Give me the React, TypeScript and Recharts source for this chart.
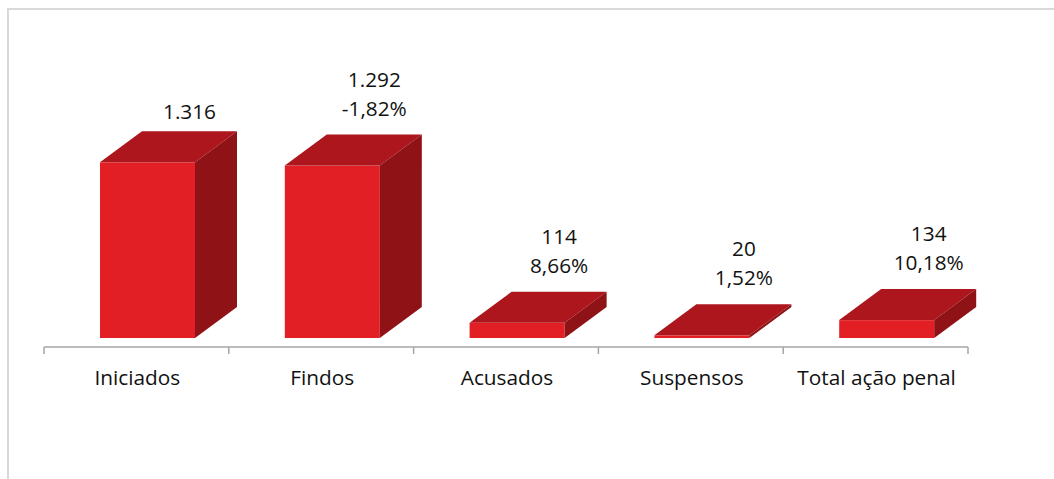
import { BarChart, Bar, XAxis, YAxis } from 'recharts'

const categories = ['Iniciados', 'Findos', 'Acusados', 'Suspensos', 'Total ação penal']
const values = [1316, 1292, 114, 20, 134]
const valueLabels = ['1.316', '1.292', '114', '20', '134']
const pctLabels = ['', '-1,82%', '8,66%', '1,52%', '10,18%']

const data = categories.map((name, i) => ({
  name,
  value: values[i],
  label: valueLabels[i],
  pct: pctLabels[i],
}))

const FRONT = '#e31f26'
const TOP = '#ac161c'
const SIDE = '#8f1217'
const FONT = '"Open Sans", "Noto Sans", sans-serif'
const FS = 20.8

const DX = 42
const DY = 31
const SHIFT = 11

function Bar3D(props: any) {
  const { x, y, width, height, payload } = props
  const x0 = x + SHIFT
  const x1 = x0 + width
  const yb = y + height
  const cx = x0 + width / 2 + DX
  return (
    <g>
      <rect x={x0} y={y} width={width} height={Math.max(height, 0.5)} fill={FRONT} />
      <polygon points={`${x0},${y} ${x0 + DX},${y - DY} ${x1 + DX},${y - DY} ${x1},${y}`} fill={TOP} />
      <polygon points={`${x1},${y} ${x1 + DX},${y - DY} ${x1 + DX},${yb - DY} ${x1},${yb}`} fill={SIDE} />
      {payload.pct ? (
        <>
          <text x={cx} y={y - DY - 48} textAnchor="middle" fontSize={FS} fontFamily={FONT} fill="#111">
            {payload.label}
          </text>
          <text x={cx} y={y - DY - 19} textAnchor="middle" fontSize={FS} fontFamily={FONT} fill="#111">
            {payload.pct}
          </text>
        </>
      ) : (
        <text x={cx} y={y - DY - 12} textAnchor="middle" fontSize={FS} fontFamily={FONT} fill="#111">
          {payload.label}
        </text>
      )}
    </g>
  )
}

function CatTick(props: any) {
  const { x, y, payload, index } = props
  const half = payload.offset ?? 92.4
  return (
    <g>
      <line x1={x - half} y1={y} x2={x - half} y2={y + 7} stroke="#a6a6a6" strokeWidth={1.5} />
      {index === categories.length - 1 && (
        <line x1={x + half} y1={y} x2={x + half} y2={y + 7} stroke="#a6a6a6" strokeWidth={1.5} />
      )}
      <text x={x + 1} y={y + 38} textAnchor="middle" fontSize={FS} fontFamily={FONT} fill="#111">
        {payload.value}
      </text>
    </g>
  )
}

export default function App() {
  return (
    <div style={{ position: 'absolute', left: 0, top: 0, width: 1054, height: 479, background: '#fff', overflow: 'hidden' }}>
      <div style={{ position: 'absolute', left: 7, top: 8, width: 1060, height: 500, borderTop: '2px solid #d9d9d9', borderLeft: '2px solid #d9d9d9' }} />
      <BarChart width={1054} height={479} data={data} margin={{ top: 71, right: 86, bottom: 102, left: 44 }}>
        <YAxis hide type="number" domain={[-67.3, 2000]} allowDataOverflow />
        <XAxis
          dataKey="name"
          height={30}
          tickSize={0}
          tickMargin={0}
          interval={0}
          axisLine={{ stroke: '#a6a6a6', strokeWidth: 1.5 }}
          tick={<CatTick />}
        />
        <Bar dataKey="value" barSize={95} shape={<Bar3D />} isAnimationActive={false} />
      </BarChart>
    </div>
  )
}
